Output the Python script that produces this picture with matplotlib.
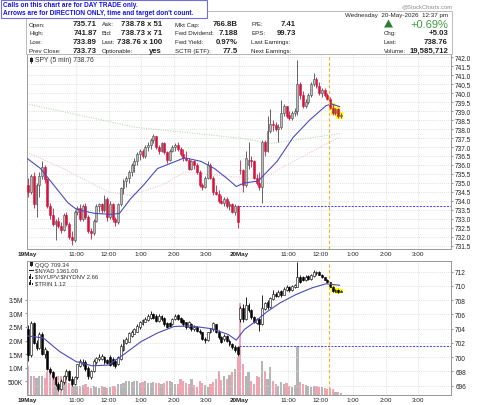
import matplotlib
matplotlib.use("Agg")
import matplotlib.pyplot as plt
from matplotlib.patches import Rectangle, Polygon
from matplotlib.lines import Line2D
import numpy as np

plt.rcParams['font.family'] = ['Liberation Sans', 'DejaVu Sans']

# ---------------- data ----------------
spy_open = [734.9, 734.5, 735.4, 733.8, 734.9, 735.4, 735.9, 735.2, 733.7, 733.2,
            732.7, 732.9, 732.6, 732.4, 733.2, 732.7, 732.0, 731.8, 733.4, 733.6,
            733.0, 733.7, 733.1, 732.3, 732.2, 732.9, 733.7, 733.8, 733.5, 734.1,
            733.1, 733.8, 733.0, 732.8, 733.8, 734.7, 735.1, 735.3, 735.6, 736.0,
            736.2, 736.6, 736.8, 736.5, 737.0, 737.1, 737.4, 737.6, 737.0, 736.8,
            737.2, 736.7, 736.3, 736.8, 737.0, 737.1, 736.9, 736.6, 736.4, 736.3,
            735.8, 736.2, 736.0, 735.6, 734.9, 734.8, 735.3, 736.0, 735.3, 734.5,
            734.4, 734.0, 733.9, 734.1, 733.7, 733.8, 733.4, 733.7,
            735.71, 735.7, 734.9, 736.0, 736.3, 736.2, 735.3, 735.0, 734.8, 737.3,
            736.8, 737.9, 738.3, 738.2, 738.0, 738.1, 738.9, 739.3, 738.8, 738.6,
            738.9, 739.0, 740.5, 739.9, 739.3, 739.5, 739.9, 740.5, 740.8, 740.4,
            740.0, 740.2, 739.9, 739.7, 739.2, 738.9, 739.1, 738.7]
spy_high = [735.3, 735.5, 735.6, 735.0, 735.6, 736.2, 736.0, 735.3, 733.9, 733.6,
            733.0, 733.1, 732.8, 733.3, 733.4, 732.8, 732.3, 733.5, 733.7, 733.8,
            733.8, 733.9, 733.2, 732.5, 733.0, 733.8, 733.9, 733.9, 734.3, 734.2,
            734.0, 733.9, 733.1, 733.9, 734.8, 735.2, 735.4, 735.7, 736.1, 736.4,
            736.7, 736.9, 736.9, 737.1, 737.3, 737.5, 737.7, 737.6, 737.1, 737.3,
            737.3, 736.8, 736.9, 737.1, 737.2, 737.3, 737.0, 736.9, 736.8, 736.4,
            736.3, 736.3, 736.1, 735.7, 735.0, 735.4, 736.2, 736.1, 735.4, 734.9,
            734.6, 734.3, 734.2, 734.2, 734.0, 733.9, 733.8, 733.75,
            736.3, 735.8, 736.8, 737.3, 736.5, 736.3, 735.5, 735.6, 737.4, 737.4,
            738.7, 739.1, 738.5, 738.4, 738.3, 739.6, 739.4, 739.3, 739.0, 739.0,
            739.2, 741.87, 740.6, 740.1, 739.7, 740.0, 740.6, 741.1, 740.9, 740.6,
            740.3, 740.3, 740.0, 739.8, 739.4, 739.2, 739.2, 738.9]
spy_low = [734.2, 734.4, 733.6, 733.1, 734.2, 735.2, 735.0, 733.6, 733.0, 732.6,
           731.8, 732.5, 732.2, 732.3, 732.6, 731.9, 731.55, 731.7, 733.2, 732.9,
           732.9, 733.0, 732.2, 731.9, 732.1, 732.8, 733.4, 733.3, 733.4, 732.9,
           733.0, 732.8, 732.6, 732.7, 733.7, 734.4, 734.8, 735.0, 735.4, 735.6,
           736.0, 736.3, 736.4, 736.4, 736.8, 736.9, 737.2, 736.9, 736.6, 736.7,
           736.6, 736.1, 736.2, 736.7, 736.8, 736.8, 736.5, 736.2, 736.2, 735.7,
           735.7, 735.8, 735.5, 734.8, 734.6, 734.7, 735.2, 735.2, 734.3, 734.3,
           733.9, 733.8, 733.7, 733.6, 733.5, 733.3, 733.2, 732.5,
           735.5, 734.5, 734.8, 735.8, 735.9, 735.2, 734.9, 734.6, 733.89, 736.5,
           736.7, 737.8, 737.9, 737.9, 737.3, 738.0, 738.7, 738.6, 738.5, 738.5,
           738.7, 738.8, 739.7, 739.2, 739.2, 739.4, 739.8, 740.4, 740.3, 739.9,
           739.8, 739.8, 739.6, 739.1, 738.8, 738.8, 738.6, 738.6]
spy_close = [734.5, 735.4, 733.8, 734.9, 735.4, 735.9, 735.2, 733.7, 733.2, 732.7,
             732.9, 732.6, 732.4, 733.2, 732.7, 732.0, 731.8, 733.4, 733.6, 733.0,
             733.7, 733.1, 732.3, 732.2, 732.9, 733.7, 733.8, 733.5, 734.1, 733.1,
             733.8, 733.0, 732.8, 733.8, 734.7, 735.1, 735.3, 735.6, 736.0, 736.2,
             736.6, 736.8, 736.5, 737.0, 737.1, 737.4, 737.6, 737.0, 736.8, 737.2,
             736.7, 736.3, 736.8, 737.0, 737.1, 736.9, 736.6, 736.4, 736.3, 735.8,
             736.2, 736.0, 735.6, 734.9, 734.8, 735.3, 736.0, 735.3, 734.5, 734.4,
             734.0, 733.9, 734.1, 733.7, 733.8, 733.4, 733.7, 732.85,
             735.7, 734.9, 736.4, 736.3, 736.2, 735.3, 735.0, 734.8, 737.3, 736.8,
             737.9, 738.3, 738.2, 738.0, 738.1, 738.9, 739.3, 738.7, 738.6, 738.9,
             739.0, 740.5, 739.9, 739.3, 739.5, 739.9, 740.5, 740.8, 740.4, 740.0,
             740.2, 739.9, 739.7, 739.2, 738.9, 739.1, 738.7, 738.76]

qqq_open = [704.0, 700.3, 704.8, 702.0, 701.3, 703.3, 700.4, 700.9, 698.4, 697.9,
            697.2, 696.2, 695.6, 696.5, 697.3, 698.0, 697.0, 696.3, 697.2, 698.8,
            699.0, 699.4, 698.5, 697.2, 698.0, 699.3, 699.7, 699.8, 700.0, 699.6,
            700.0, 699.8, 699.5, 699.0, 699.8, 701.0, 702.0, 702.2, 703.0, 703.3,
            703.6, 704.2, 704.6, 705.0, 705.2, 705.5, 706.0, 705.8, 705.1, 705.8,
            705.5, 704.8, 704.8, 704.6, 705.3, 705.9, 705.5, 705.2, 704.9, 704.2,
            704.6, 703.9, 704.3, 703.7, 703.5, 702.6, 702.4, 703.5, 703.9, 704.6,
            703.6, 702.8, 702.5, 703.0, 702.3, 701.8, 701.5, 701.4,
            705.3, 706.9, 705.3, 707.3, 706.6, 705.6, 704.8, 705.3, 704.6, 706.8,
            707.8, 707.0, 708.2, 708.9, 708.6, 709.3, 708.8, 709.4, 709.9, 709.4,
            709.8, 709.9, 711.3, 711.2, 710.8, 711.4, 711.0, 711.4, 711.8, 712.0,
            711.6, 711.2, 710.9, 710.5, 709.9, 709.2, 709.5, 709.2]
qqq_high = [704.5, 705.1, 704.9, 702.4, 703.6, 703.5, 701.5, 701.0, 698.6, 698.1,
            697.4, 696.5, 696.9, 697.5, 698.3, 698.2, 697.3, 697.4, 699.1, 699.7,
            699.8, 699.6, 698.7, 698.2, 699.7, 700.1, 700.4, 700.5, 700.2, 699.8,
            700.3, 700.0, 699.7, 700.2, 701.8, 702.6, 702.8, 703.6, 703.8, 704.1,
            704.6, 705.1, 705.4, 705.6, 706.0, 706.5, 706.2, 706.0, 706.0, 705.9,
            705.6, 705.0, 705.0, 705.5, 706.0, 706.0, 705.6, 705.3, 705.0, 705.1,
            704.8, 704.5, 704.4, 704.0, 703.6, 702.9, 703.6, 704.1, 705.0, 704.7,
            703.8, 703.0, 703.2, 703.1, 702.5, 702.0, 701.7, 701.6,
            707.2, 707.5, 708.4, 707.6, 706.8, 705.8, 705.5, 705.5, 708.8, 707.8,
            708.0, 708.5, 709.5, 709.1, 709.4, 709.5, 709.8, 710.2, 710.0, 710.2,
            710.3, 713.3, 711.6, 711.4, 711.5, 711.6, 711.7, 712.2, 712.1, 712.1,
            711.7, 711.3, 711.0, 710.6, 710.0, 709.6, 709.6, 709.5]
qqq_low = [699.5, 700.0, 701.8, 701.0, 701.1, 700.3, 699.9, 698.2, 697.6, 696.9,
           696.0, 695.3, 695.4, 696.3, 697.0, 696.6, 696.0, 696.1, 697.0, 698.6,
           698.8, 698.1, 696.9, 697.0, 697.9, 699.1, 699.5, 699.6, 699.1, 699.0,
           698.7, 698.8, 698.5, 698.9, 699.6, 700.9, 701.8, 702.1, 702.8, 703.2,
           703.5, 704.0, 704.5, 704.9, 705.1, 705.4, 705.3, 704.9, 705.0, 705.1,
           704.4, 704.1, 704.2, 704.5, 705.2, 705.2, 704.8, 704.4, 704.0, 704.1,
           703.7, 703.7, 703.5, 703.3, 702.4, 702.0, 702.3, 703.4, 703.7, 703.4,
           702.6, 702.0, 702.3, 702.1, 701.6, 701.2, 700.8, 700.2,
           704.9, 705.0, 705.2, 706.4, 705.4, 704.8, 704.6, 703.7, 704.5, 706.6,
           706.8, 706.9, 708.0, 708.4, 708.5, 708.5, 708.7, 709.3, 709.2, 709.3,
           709.7, 709.8, 710.4, 710.7, 710.7, 710.9, 710.9, 711.3, 711.6, 711.5,
           711.1, 710.8, 710.4, 709.8, 709.2, 709.1, 709.0, 709.1]
qqq_close = [700.3, 704.8, 702.0, 701.3, 703.3, 700.4, 701.2, 698.4, 697.9, 697.2,
             696.2, 695.6, 696.7, 697.3, 698.0, 696.8, 696.3, 697.2, 699.0, 699.5,
             699.4, 698.3, 697.3, 698.0, 699.5, 699.9, 700.0, 700.2, 699.3, 699.2,
             698.9, 699.0, 698.8, 700.0, 701.6, 702.4, 702.5, 703.4, 703.6, 703.9,
             704.4, 704.9, 705.2, 705.4, 705.8, 706.0, 705.5, 705.1, 705.8, 705.3,
             704.6, 704.3, 704.4, 705.3, 705.8, 705.4, 705.0, 704.6, 704.2, 704.9,
             703.9, 704.3, 703.7, 703.5, 702.6, 702.4, 703.5, 703.9, 704.8, 703.6,
             702.8, 702.2, 703.0, 702.3, 701.8, 701.4, 701.0, 700.5,
             706.9, 705.3, 707.3, 706.6, 705.6, 705.0, 705.3, 704.6, 706.9, 707.6,
             707.0, 708.3, 708.8, 708.6, 709.2, 708.7, 709.6, 709.9, 709.4, 710.0,
             710.1, 711.3, 710.6, 710.9, 711.3, 711.0, 711.5, 711.9, 712.0, 711.6,
             711.2, 710.9, 710.5, 709.9, 709.3, 709.5, 709.2, 709.34]

volume_m = [1.07, 0.69, 0.70, 0.64, 0.70, 0.70, 0.64, 0.90, 0.94, 0.90,
            0.64, 0.70, 0.70, 0.58, 0.58, 0.45, 0.39, 0.33, 0.33, 0.33,
            0.36, 0.39, 0.30, 0.27, 0.33, 0.30, 0.27, 0.33, 0.30, 0.27,
            0.30, 0.33, 0.33, 0.39, 0.39, 0.45, 0.50, 0.52, 0.48, 0.50,
            0.52, 0.45, 0.48, 0.50, 0.45, 0.45, 0.48, 0.45, 0.45, 0.42,
            0.45, 0.50, 0.52, 0.48, 0.39, 0.42, 0.57, 0.50, 0.45, 0.40,
            0.58, 0.35, 0.30, 0.52, 0.45, 0.35, 0.30, 0.40, 0.48, 0.60,
            0.88, 0.55, 0.70, 0.60, 0.75, 0.85, 0.95, 1.40,
            3.40, 1.14, 0.71, 0.83, 0.53, 0.41, 0.71, 0.65, 1.26, 0.89,
            0.60, 1.02, 0.53, 0.41, 0.34, 0.47, 0.41, 0.45, 0.34, 0.30,
            0.35, 1.80, 0.47, 0.41, 0.38, 0.34, 0.30, 0.34, 0.34, 0.28,
            0.28, 0.25, 0.22, 0.25, 0.22, 0.12, 0.10, 0.08]

# moving averages (bar index, value)
spy_ma_bar = [0, 5, 10, 15, 18, 22, 25, 31, 34, 38, 43, 48, 53, 58, 64, 69, 74, 77,
              80, 85, 92, 98, 104, 110, 112, 115]
spy_ma_val = [736.37, 735.8, 734.85, 733.9, 733.55, 733.4, 733.3, 733.25, 733.3, 734.1,
              734.9, 735.8, 736.1, 736.4, 736.2, 735.8, 735.2, 734.8, 735.0, 735.1,
              736.2, 737.55, 738.5, 739.3, 739.4, 739.25]
spy_ma50_bar = [0, 40, 78, 90, 115]
spy_ma50_val = [739.4, 738.1, 737.5, 737.2, 737.75]
spy_ma200_bar = [0, 12, 30, 38, 50, 58, 86, 98, 115]
spy_ma200_val = [736.7, 735.9, 734.5, 734.3, 734.9, 735.6, 735.2, 736.2, 737.55]
qqq_ma_bar = [0, 6, 12, 18, 24, 30, 36, 42, 48, 54, 60, 68, 74, 77, 80, 84, 88, 93,
              99, 105, 110, 115]
qqq_ma_val = [703.0, 702.7, 700.8, 699.4, 698.8, 698.9, 700.5, 702.2, 703.4, 704.3,
              704.4, 704.0, 703.2, 702.4, 703.9, 705.0, 706.3, 707.6, 708.8, 709.75,
              710.3, 710.1]

spy_prev_close = 733.73
qqq_prev_close = 701.6
marker_bar = 111          # 12:15 on 20-May
highlight_from = 112

tick_pos = [0, 18, 30, 42, 54, 66, 78, 96, 108, 120, 132, 144]
tick_lab = ['19May', '11:00', '12:00', '1:00', '2:00', '3:00',
            '20May', '11:00', '12:00', '1:00', '2:00', '3:00']
vol_ticks = [0.5, 1.0, 1.5, 2.0, 2.5, 3.0, 3.5]
vol_labels = ['500K', '1.0M', '1.5M', '2.0M', '2.5M', '3.0M', '3.5M']

# ---------------- figure ----------------
W, H = 480, 406
fig = plt.figure(figsize=(W / 100, H / 100), dpi=100)
fig.patch.set_facecolor('white')


def fx(x):
    return x / W


def fy(y):
    return 1 - y / H


ax1 = fig.add_axes([fx(27), fy(250), fx(451) - fx(27), fy(55) - fy(250)])
axv = fig.add_axes([fx(27), fy(396), fx(451) - fx(27), fy(262) - fy(396)])
axq = axv.twinx()

RED = '#d3143e'
GREYF = '#bcbcbc'
GREYE = '#4a4a4a'
GRID = '#d6d6d6'
TXT = '#222222'


def candles(ax, o, h, l, c, upf, upe, dnf, dne, width, minh):
    o, h, l, c = map(np.asarray, (o, h, l, c))
    x = np.arange(len(o)) + 0.5
    up = c >= o
    hs = highlight_from
    # yellow highlight behind last candles
    ax.vlines(x[hs:], l[hs:] - minh, h[hs:] + minh, colors='#ffff00', lw=3.2, zorder=3)
    ax.bar(x[hs:], np.maximum(np.abs(c - o), minh)[hs:] + 2 * minh, width + 0.9,
           np.minimum(o, c)[hs:] - minh, color='#ffff00', zorder=3, lw=0)
    wick = np.where(up, upe, dnf)
    ax.vlines(x, l, h, colors=wick, lw=0.6, zorder=4)
    face = np.where(up, upf, dnf)
    edge = np.where(up, upe, dne)
    ax.bar(x, np.maximum(np.abs(c - o), minh), width, np.minimum(o, c),
           color=face, edgecolor=edge, lw=0.4, zorder=5)


def style(ax):
    for s in ax.spines.values():
        s.set_color('#9a9a9a')
        s.set_linewidth(0.7)
    ax.set_xlim(0, 156)
    ax.set_xticks(tick_pos)
    ax.set_xticklabels(tick_lab)
    ax.tick_params(axis='x', length=0, pad=1.5, labelsize=4.6, labelcolor=TXT)
    for t in ax.get_xticklabels():
        if 'May' in t.get_text():
            t.set_fontweight('bold')


# ---- top panel ----
style(ax1)
ax1.set_ylim(731.32, 742.18)
ax1.yaxis.tick_right()
ax1.set_yticks(np.arange(731.5, 742.01, 0.5))
ax1.set_yticklabels(['%.1f' % v for v in np.arange(731.5, 742.01, 0.5)])
ax1.tick_params(axis='y', length=1.5, pad=1.5, labelsize=4.7, labelcolor=TXT, color='#9a9a9a')
ax1.grid(True, color=GRID, ls=(0, (1, 1.5)), lw=0.6)
ax1.set_axisbelow(True)
ax1.plot(spy_ma50_bar, spy_ma50_val, color='#a9d2a9', ls=(0, (1, 1.5)), lw=0.7, zorder=2)
ax1.plot(spy_ma200_bar, spy_ma200_val, color='#f1b9c2', ls=(0, (1, 1.5)), lw=0.7, zorder=2)
candles(ax1, spy_open, spy_high, spy_low, spy_close, GREYF, GREYE, RED, RED, 0.7, 0.04)
ax1.plot(spy_ma_bar, spy_ma_val, color='#4b4bbd', lw=0.8, zorder=6)
ax1.hlines(spy_prev_close, 78, 156, colors='#3a3aff', linestyles=(0, (2, 1.5)), lw=0.7, zorder=6)
ax1.axvline(marker_bar, color='#f3b62a', ls=(0, (3, 2)), lw=0.8, zorder=6)

# ---- bottom panel ----
style(axv)
axv.set_ylim(0, 4.926)
axv.set_yticks(vol_ticks)
axv.set_yticklabels(vol_labels)
axv.tick_params(axis='y', length=1.5, pad=1.5, labelsize=4.7, labelcolor=TXT, color='#9a9a9a')
axv.grid(True, axis='x', color=GRID, ls=(0, (1, 1.5)), lw=0.6)
axv.set_axisbelow(True)
so = np.asarray(spy_open)
sc = np.asarray(spy_close)
vcol = np.where(sc < so, '#eea5b1', '#b5b5b5')
axv.bar(np.arange(len(volume_m)) + 0.5, volume_m, 0.8, color=vcol, lw=0, zorder=2)

for s in axq.spines.values():
    s.set_color('#9a9a9a')
    s.set_linewidth(0.7)
axq.set_ylim(694.7, 713.5)
axq.set_yticks(np.arange(696, 712.1, 2))
axq.set_yticklabels(['%d' % v for v in np.arange(696, 712.1, 2)])
axq.tick_params(axis='y', length=1.5, pad=1.5, labelsize=4.7, labelcolor=TXT, color='#9a9a9a')
axq.grid(True, axis='y', color=GRID, ls=(0, (1, 1.5)), lw=0.6)
candles(axq, qqq_open, qqq_high, qqq_low, qqq_close, 'white', 'black', 'black', 'black', 0.7, 0.07)
axq.plot(qqq_ma_bar, qqq_ma_val, color='#4b4bbd', lw=0.8, zorder=6)
axq.hlines(qqq_prev_close, 78, 156, colors='#3a3aff', linestyles=(0, (2, 1.5)), lw=0.7, zorder=6)
axq.axvline(marker_bar, color='#f3b62a', ls=(0, (3, 2)), lw=0.8, zorder=6)
axq.set_xlim(0, 156)

# ---------------- header ----------------
def ftext(x, y, s, ha='left', size=4.4, weight='normal', color=TXT, **kw):
    fig.text(fx(x), fy(y), s, ha=ha, va='center', fontsize=size, fontweight=weight,
             color=color, **kw)


fig.add_artist(Rectangle((fx(26), fy(55)), fx(452) - fx(26), fy(12) - fy(55),
                         transform=fig.transFigure, facecolor='white',
                         edgecolor='#b0b0b0', lw=0.6, zorder=1))

rows = [25, 33.7, 42.7, 51.7]
col1_l = ['Open:', 'High:', 'Low:', 'Prev Close:']
col1_v = ['735.71', '741.87', '733.89', '733.73']
col2_l = ['Ask:', 'Bid:', 'Last:', 'Optionable:']
col2_v = ['738.78 x 51', '738.73 x 71', '738.76 x 100', 'yes']
col3_l = ['Mkt Cap:', 'Fwd Dividend:', 'Fwd Yield:', 'SCTR (ETF):']
col3_v = ['766.8B', '7.188', '0.97%', '77.5']
col4_l = ['P/E:', 'EPS:', 'Last Earnings:', 'Next Earnings:']
col4_v = ['7.41', '99.73', '', '']
for i, yy in enumerate(rows):
    ftext(29, yy, col1_l[i])
    ftext(97, yy, col1_v[i], ha='right', size=5.6, weight='bold')
    ftext(102, yy, col2_l[i])
    ftext(162, yy, col2_v[i], ha='right', size=5.6, weight='bold')
    ftext(175, yy, col3_l[i])
    ftext(238, yy, col3_v[i], ha='right', size=5.6, weight='bold')
    ftext(251, yy, col4_l[i])
    if col4_v[i]:
        ftext(296, yy, col4_v[i], ha='right', size=5.6, weight='bold')

ftext(448, 15.7, 'Wednesday  20-May-2026  12:37 pm', ha='right', size=4.5)
fig.add_artist(Polygon([(fx(384), fy(28.5)), (fx(393), fy(28.5)), (fx(388.5), fy(20.5))],
                       closed=True, transform=fig.transFigure, facecolor='#2f7d32',
                       edgecolor='none', zorder=3))
ftext(448, 24.5, '+0.69%', ha='right', size=8.0, color='#3b9b3d')
ftext(384, 33.7, 'Chg:')
ftext(448, 33.7, '+5.03', ha='right', size=5.6, weight='bold')
ftext(384, 42.7, 'Last:')
ftext(448, 42.7, '738.76', ha='right', size=5.6, weight='bold')
ftext(384, 51.7, 'Volume:')
ftext(448, 51.7, '19,585,712', ha='right', size=5.6, weight='bold')
ftext(452, 6.5, '@StockCharts.com', ha='right', size=4.2, color='#8a8a8a')

# notice box
fig.add_artist(Rectangle((fx(0.5), fy(19)), fx(206), fy(0.5) - fy(19),
                         transform=fig.transFigure, facecolor='white',
                         edgecolor='#7070d8', lw=0.8, zorder=4))
ftext(3, 5.5, 'Calls on this chart are for DAY TRADE only.', size=4.7,
      weight='bold', color='#1616e0', zorder=5)
ftext(3, 13.8, "Arrows are for DIRECTION ONLY, time and target don't count.", size=4.7,
      weight='bold', color='#1616e0', zorder=5)

# ---------------- legends ----------------
def candle_icon(x, y, s=1.0):
    fig.add_artist(Line2D([fx(x + 1.5), fx(x + 1.5)], [fy(y - 3 * s), fy(y + 3 * s)],
                          transform=fig.transFigure, color='#222', lw=0.5, zorder=6))
    fig.add_artist(Rectangle((fx(x), fy(y + 2 * s)), fx(3), fy(y - 2 * s) - fy(y + 2 * s),
                             transform=fig.transFigure, facecolor='#222', lw=0, zorder=6))


def bars_icon(x, y):
    for k, hh in enumerate([3, 4.5, 2]):
        fig.add_artist(Rectangle((fx(x + k * 1.7), fy(y + 2.2)), fx(1.2), hh / H,
                                 transform=fig.transFigure, facecolor='#222', lw=0, zorder=6))


candle_icon(29.5, 61)
ftext(35, 61, 'SPY (5 min) 738.76', size=4.9, color='#333333', zorder=6)

leg_y = [265, 271.2, 277.4, 283.6]
candle_icon(29.5, leg_y[0], 0.8)
ftext(35, leg_y[0], 'QQQ 709.34', size=4.3, color='#333333', zorder=6)
fig.add_artist(Line2D([fx(28.5), fx(33)], [fy(leg_y[1]), fy(leg_y[1])],
                      transform=fig.transFigure, color='#222', lw=0.8, zorder=6))
ftext(35, leg_y[1], r'\$NYAD 1361.00', size=4.3, color='#333333', zorder=6)
bars_icon(28.5, leg_y[2])
ftext(35, leg_y[2], r'\$NYUPV:\$NYDNV 2.66', size=4.3, color='#333333', zorder=6)
bars_icon(28.5, leg_y[3])
ftext(35, leg_y[3], r'\$TRIN 1.12', size=4.3, color='#333333', zorder=6)

fig.savefig('out.png', dpi=100, facecolor='white')
